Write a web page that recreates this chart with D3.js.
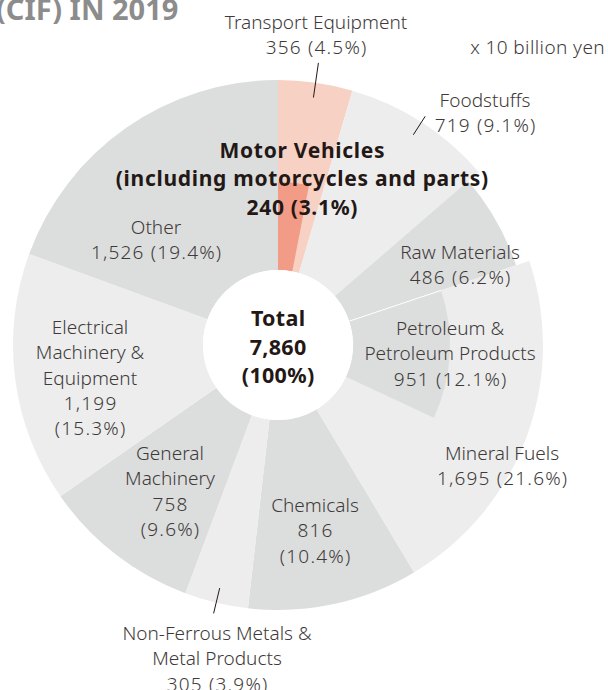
<!DOCTYPE html>
<html>
<head>
<meta charset="utf-8">
<script src="https://cdn.jsdelivr.net/npm/d3@7"></script>
<style>
  html, body { margin: 0; padding: 0; background: #ffffff; }
  svg { display: block; }
</style>
</head>
<body>
<svg id="chart" width="608" height="690"></svg>
<script>
// ---------- DATA ----------
const categories = [
  "Transport Equipment", "Foodstuffs", "Raw Materials", "Mineral Fuels",
  "Chemicals", "Non-Ferrous Metals & Metal Products", "General Machinery",
  "Electrical Machinery & Equipment", "Other"
];
const values = [356, 719, 486, 1695, 816, 305, 758, 1199, 1526];
const shares = [4.5, 9.1, 6.2, 21.6, 10.4, 3.9, 9.6, 15.3, 19.4];

const subCategories = ["Motor Vehicles (including motorcycles and parts)", "Petroleum & Petroleum Products"];
const subValues = [240, 951];
const subShares = [3.1, 12.1];
const subParent = ["Transport Equipment", "Mineral Fuels"];

const totalValue = 7860;
const unitLabel = "x 10 billion yen";
const titleText = "(CIF) IN 2019";

// ---------- LAYOUT / STYLE ----------
const W = 608, H = 690;
const cx = 278, cy = 345;
const rInner = 75, rOuter = 265;
const outerByCat = { "Raw Materials": 251 };
const subOuter = { "Transport Equipment": 163, "Mineral Fuels": 172 };
const fillByCat = {
  "Transport Equipment": "#f8d1c5",
  "Foodstuffs": "#ededed",
  "Raw Materials": "#dcdddd",
  "Mineral Fuels": "#ededed",
  "Chemicals": "#dcdddd",
  "Non-Ferrous Metals & Metal Products": "#ededed",
  "General Machinery": "#dcdddd",
  "Electrical Machinery & Equipment": "#ededed",
  "Other": "#dcdddd"
};
const subFill = { "Transport Equipment": "#f29c87", "Mineral Fuels": "#dcdddd" };
const textColor = "#3e3a39";
const boldColor = "#231815";
const fontFam = "'Noto Sans', 'Open Sans', sans-serif";
const fs = 19, lh = 25.3;
const numSpacing = 1.2;

// label anchors (text block: center x, first-line middle y)
const fmt = d3.format(",");
const labelLayout = {
  "Transport Equipment": { x: 316, y: 22, lines: d => ["Transport Equipment", `${fmt(d.v)} (${d.s}%)`] },
  "Foodstuffs": { x: 485, y: 100, lines: d => ["Foodstuffs", `${fmt(d.v)} (${d.s}%)`] },
  "Raw Materials": { x: 460, y: 252, lines: d => ["Raw Materials", `${fmt(d.v)} (${d.s}%)`] },
  "Mineral Fuels": { x: 502, y: 453, lines: d => ["Mineral Fuels", `${fmt(d.v)} (${d.s}%)`] },
  "Chemicals": { x: 315, y: 505, lines: d => ["Chemicals", `${fmt(d.v)}`, `(${d.s}%)`] },
  "Non-Ferrous Metals & Metal Products": { x: 217, y: 633, lines: d => ["Non-Ferrous Metals &", "Metal Products", `${fmt(d.v)} (${d.s}%)`] },
  "General Machinery": { x: 170, y: 453, lines: d => ["General", "Machinery", `${fmt(d.v)}`, `(${d.s}%)`] },
  "Electrical Machinery & Equipment": { x: 90, y: 327, lines: d => ["Electrical", "Machinery &", "Equipment", `${fmt(d.v)}`, `(${d.s}%)`] },
  "Other": { x: 156, y: 227, lines: d => ["Other", `${fmt(d.v)} (${d.s}%)`] }
};
const subLabelLayout = {
  "Transport Equipment": { x: 302, y: 149.5, bold: true, size: 21, step: 28.5, spacing: 0.7,
    lines: d => ["Motor Vehicles", "(including motorcycles and parts)", `${fmt(d.v)} (${d.s}%)`] },
  "Mineral Fuels": { x: 450, y: 328, bold: false, size: fs, step: lh, spacing: 0,
    lines: d => ["Petroleum &", "Petroleum Products", `${fmt(d.v)} (${d.s}%)`] }
};
const leaders = { "Transport Equipment": [250, 285], "Foodstuffs": [250, 272], "Non-Ferrous Metals & Metal Products": [250, 276] };

// ---------- DRAW ----------
const svg = d3.select("#chart");
const g = svg.append("g").attr("transform", `translate(${cx},${cy})`);

const data = categories.map((c, i) => ({ c, v: values[i], s: shares[i] }));
const pie = d3.pie().sort(null).value(d => d.v);
const arcs = pie(data);
const angle = d3.scaleLinear().domain([0, totalValue]).range([0, 2 * Math.PI]);

const arcGen = d3.arc().innerRadius(rInner);

g.selectAll("path.main").data(arcs).join("path")
  .attr("class", "main")
  .attr("d", d => arcGen.outerRadius(outerByCat[d.data.c] || rOuter)(d))
  .attr("fill", d => fillByCat[d.data.c]);

// sub-slices nested inside their parents, starting at the parent's start angle
const subData = subCategories.map((c, i) => {
  const parent = arcs.find(a => a.data.c === subParent[i]);
  return { c, parent: subParent[i], v: subValues[i], s: subShares[i],
           startAngle: parent.startAngle, endAngle: parent.startAngle + angle(subValues[i]) };
});
g.selectAll("path.sub").data(subData).join("path")
  .attr("class", "sub")
  .attr("d", d => d3.arc().innerRadius(rInner).outerRadius(subOuter[d.parent])(d))
  .attr("fill", d => subFill[d.parent]);

// thin white separator between Raw Materials and Petroleum
const pet = subData[1];
g.append("line")
  .attr("x1", rInner * Math.sin(pet.startAngle)).attr("y1", -rInner * Math.cos(pet.startAngle))
  .attr("x2", subOuter["Mineral Fuels"] * Math.sin(pet.startAngle)).attr("y2", -subOuter["Mineral Fuels"] * Math.cos(pet.startAngle))
  .attr("stroke", "#ffffff").attr("stroke-width", 1);

// center hole
g.append("circle").attr("r", rInner).attr("fill", "#ffffff");

// leader lines (radial at slice mid-angle)
arcs.filter(a => leaders[a.data.c]).forEach(a => {
  const m = (a.startAngle + a.endAngle) / 2;
  const [r1, r2] = leaders[a.data.c];
  g.append("line")
    .attr("x1", r1 * Math.sin(m)).attr("y1", -r1 * Math.cos(m))
    .attr("x2", r2 * Math.sin(m)).attr("y2", -r2 * Math.cos(m))
    .attr("stroke", boldColor).attr("stroke-width", 1);
});

const isNumeric = s => /^[\d,.() %]+$/.test(s);

function textBlock(x, y, lines, bold, size, step, boldSpacing) {
  const t = svg.append("text")
    .attr("x", x).attr("y", y)
    .attr("text-anchor", "middle")
    .attr("dominant-baseline", "central")
    .attr("font-family", fontFam)
    .attr("font-size", size)
    .attr("font-weight", bold ? 700 : 300)
    .attr("fill", bold ? boldColor : textColor);
  lines.forEach((ln, i) => {
    const sp = bold ? (boldSpacing || 0) : (isNumeric(ln) ? numSpacing : 0);
    t.append("tspan")
      .attr("x", x + sp / 2).attr("y", y + i * step)
      .attr("letter-spacing", sp)
      .text(ln);
  });
}

data.forEach(d => {
  const L = labelLayout[d.c];
  textBlock(L.x, L.y, L.lines(d), false, fs, lh);
});
subData.forEach(d => {
  const L = subLabelLayout[d.parent];
  textBlock(L.x, L.y, L.lines(d), L.bold, L.size, L.step, L.spacing);
});

// total
textBlock(cx, 317, ["Total", fmt(totalValue), "(100%)"], true, 21.5, 28.5, 0.3);

// unit label
svg.append("text").attr("x", 605).attr("y", 47)
  .attr("text-anchor", "end").attr("dominant-baseline", "central")
  .attr("font-family", fontFam).attr("font-size", fs).attr("font-weight", 300)
  .attr("letter-spacing", 0.4).attr("fill", textColor)
  .text(unitLabel);

// title fragment (cropped at the left/top edge, as in the source page)
svg.append("text").attr("x", -4).attr("y", 19.5)
  .attr("font-family", fontFam).attr("font-size", 29).attr("font-weight", 700)
  .attr("fill", "#8c8c8c")
  .text(titleText);
</script>
</body>
</html>
